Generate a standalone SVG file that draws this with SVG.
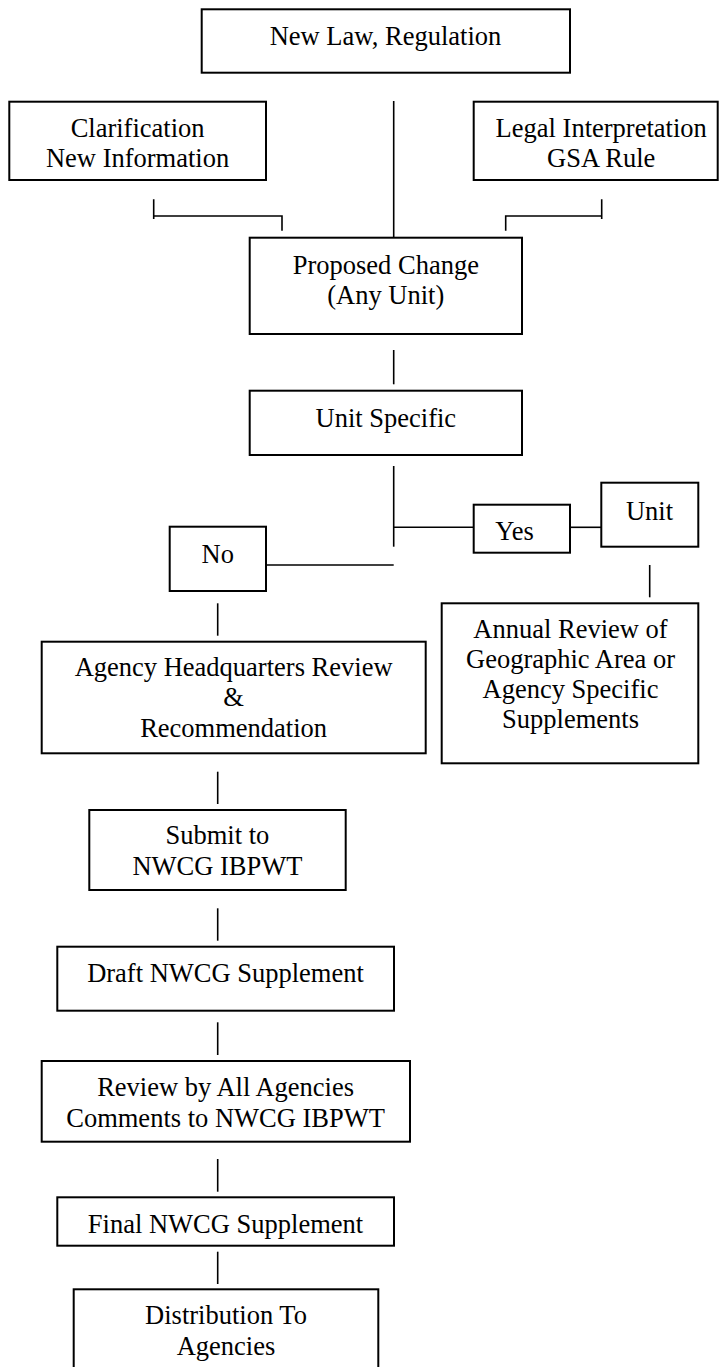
<svg xmlns="http://www.w3.org/2000/svg" width="719" height="1367" viewBox="0 0 719 1367">
<style>
  .box { fill: #ffffff; stroke: #000000; stroke-width: 2; }
  .lbl { font-family: "Liberation Serif", "Times New Roman", serif; font-size: 26.5px; fill: #000000; text-anchor: middle; }
  .ln { fill: none; stroke: #000000; stroke-width: 1.6; }
</style>
<rect width="719" height="1367" fill="#ffffff"/>

<g id="connectors">
  <path class="ln" d="M393.7,101 V237.7"/>
  <path class="ln" d="M153.7,199.3 V219 M153.7,216 H282 V230.7"/>
  <path class="ln" d="M601.7,199.3 V219 M601.7,216 H505.7 V230.7"/>
  <path class="ln" d="M393.7,350 V384.3"/>
  <path class="ln" d="M393.7,466 V546.7"/>
  <path class="ln" d="M393.7,527.3 H473.7"/>
  <path class="ln" d="M570,527.3 H601.3"/>
  <path class="ln" d="M266,565 H393.7"/>
  <path class="ln" d="M649.7,565 V597.3"/>
  <path class="ln" d="M217.7,603.3 V635.7"/>
  <path class="ln" d="M217.7,771.7 V804"/>
  <path class="ln" d="M217.7,908.3 V940.7"/>
  <path class="ln" d="M217.7,1022.3 V1055"/>
  <path class="ln" d="M217.7,1159 V1191.7"/>
  <path class="ln" d="M217.7,1251.7 V1284"/>
</g>

<g id="new-law">
  <rect class="box" x="201.7" y="9.3" width="368.3" height="63.4"/>
  <text class="lbl" x="385.5" y="45">New Law, Regulation</text>
</g>

<g id="clarification">
  <rect class="box" x="9.3" y="101.7" width="256.7" height="78.3"/>
  <text class="lbl" x="137.6" y="136.7">Clarification</text>
  <text class="lbl" x="137.6" y="166.7">New Information</text>
</g>

<g id="legal">
  <rect class="box" x="473.7" y="101.7" width="244" height="78.3"/>
  <text class="lbl" x="601.2" y="136.7">Legal Interpretation</text>
  <text class="lbl" x="601.2" y="166.7">GSA Rule</text>
</g>

<g id="proposed-change">
  <rect class="box" x="249.7" y="237.7" width="272.3" height="96.3"/>
  <text class="lbl" x="385.8" y="273.5">Proposed Change</text>
  <text class="lbl" x="385.8" y="303.5">(Any Unit)</text>
</g>

<g id="unit-specific">
  <rect class="box" x="249.7" y="390.7" width="272.3" height="64.3"/>
  <text class="lbl" x="385.8" y="426.7">Unit Specific</text>
</g>

<g id="yes">
  <rect class="box" x="473.7" y="504.7" width="96.3" height="48"/>
  <text class="lbl" x="514.5" y="540">Yes</text>
</g>

<g id="unit">
  <rect class="box" x="601.3" y="482.7" width="97" height="64"/>
  <text class="lbl" x="649.5" y="520">Unit</text>
</g>

<g id="no">
  <rect class="box" x="169.7" y="526.7" width="96.3" height="64.3"/>
  <text class="lbl" x="217.7" y="562.7">No</text>
</g>

<g id="annual-review">
  <rect class="box" x="441.7" y="603.3" width="256.6" height="160"/>
  <text class="lbl" x="570.5" y="638.3">Annual Review of</text>
  <text class="lbl" x="570.5" y="668.3">Geographic Area or</text>
  <text class="lbl" x="570.5" y="698.3">Agency Specific</text>
  <text class="lbl" x="570.5" y="728.3">Supplements</text>
</g>

<g id="agency-hq">
  <rect class="box" x="41.7" y="641.7" width="384" height="111.6"/>
  <text class="lbl" x="233.6" y="676">Agency Headquarters Review</text>
  <text class="lbl" x="233.6" y="706">&amp;</text>
  <text class="lbl" x="233.6" y="736.7">Recommendation</text>
</g>

<g id="submit">
  <rect class="box" x="89.3" y="810" width="256.4" height="80"/>
  <text class="lbl" x="217.4" y="844">Submit to</text>
  <text class="lbl" x="217.4" y="875">NWCG IBPWT</text>
</g>

<g id="draft">
  <rect class="box" x="57.3" y="946.7" width="336.7" height="64"/>
  <text class="lbl" x="225.5" y="981.7">Draft NWCG Supplement</text>
</g>

<g id="review-all">
  <rect class="box" x="41.7" y="1061" width="368.3" height="80.7"/>
  <text class="lbl" x="225.6" y="1096">Review by All Agencies</text>
  <text class="lbl" x="225.6" y="1126.7">Comments to NWCG IBPWT</text>
</g>

<g id="final">
  <rect class="box" x="57.3" y="1197.3" width="336.7" height="48.4"/>
  <text class="lbl" x="225.5" y="1232.7">Final NWCG Supplement</text>
</g>

<g id="distribution">
  <rect class="box" x="73.7" y="1289.3" width="304.6" height="90"/>
  <text class="lbl" x="226" y="1324.3">Distribution To</text>
  <text class="lbl" x="226" y="1355">Agencies</text>
</g>
</svg>
